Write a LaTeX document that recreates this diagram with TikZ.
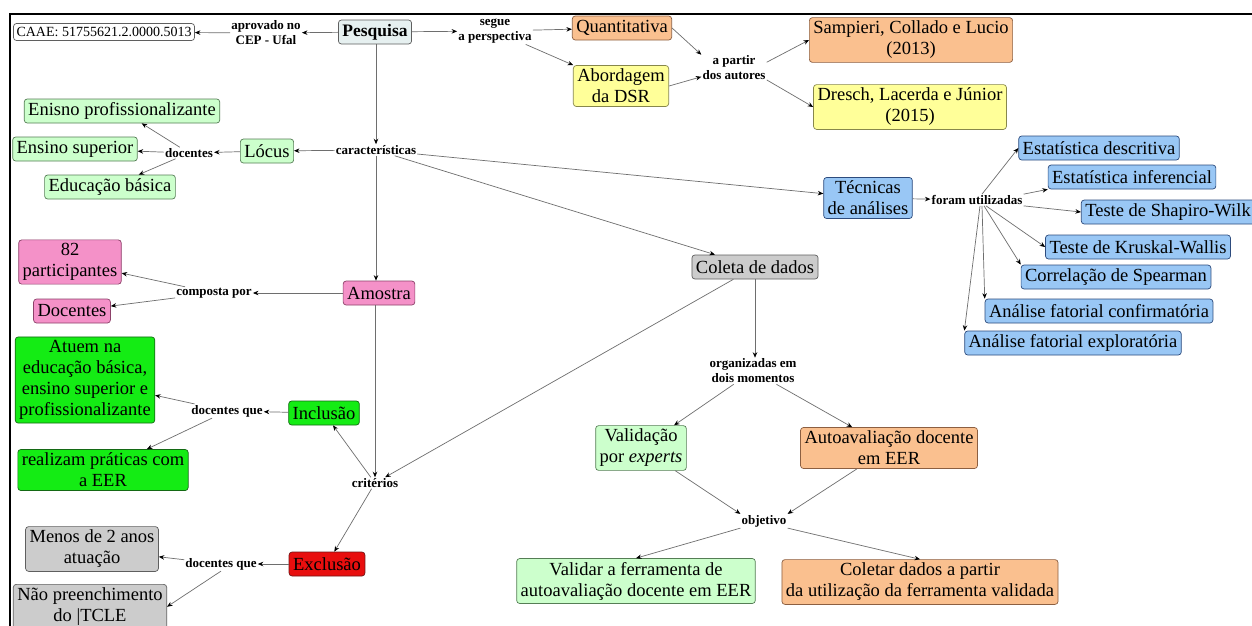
\documentclass[tikz,border=0pt]{standalone}
\usepackage{fontspec}
\setmainfont{Liberation Serif}
\usetikzlibrary{arrows.meta,calc}

\definecolor{orangeF}{RGB}{250,192,143}
\definecolor{orangeD}{RGB}{140,95,65}
\definecolor{yellowF}{RGB}{255,255,153}
\definecolor{yellowD}{RGB}{135,135,75}
\definecolor{lgreenF}{RGB}{204,255,204}
\definecolor{lgreenD}{RGB}{85,125,85}
\definecolor{blueF}{RGB}{153,199,245}
\definecolor{blueD}{RGB}{45,75,125}
\definecolor{grayF}{RGB}{204,204,204}
\definecolor{grayD}{RGB}{95,95,95}
\definecolor{pinkF}{RGB}{244,145,200}
\definecolor{pinkD}{RGB}{140,65,105}
\definecolor{bgreenF}{RGB}{20,236,20}
\definecolor{bgreenD}{RGB}{20,105,20}
\definecolor{redF}{RGB}{232,14,14}
\definecolor{redD}{RGB}{115,20,20}
\definecolor{pesqF}{RGB}{230,240,240}
\definecolor{lineC}{RGB}{110,110,110}

\tikzset{
  box/.style={draw, rounded corners=3pt, line width=0.7pt, inner xsep=4pt,
    inner ysep=3.5pt, minimum height=24pt, align=center,
    font=\fontsize{18.5}{21}\selectfont},
  orangebox/.style={box, fill=orangeF, draw=orangeD},
  yellowbox/.style={box, fill=yellowF, draw=yellowD},
  lgreenbox/.style={box, fill=lgreenF, draw=lgreenD},
  bluebox/.style={box, fill=blueF, draw=blueD},
  graybox/.style={box, fill=grayF, draw=grayD},
  pinkbox/.style={box, fill=pinkF, draw=pinkD},
  bgreenbox/.style={box, fill=bgreenF, draw=bgreenD},
  redbox/.style={box, fill=redF, draw=redD},
  lbl/.style={inner sep=1pt, align=center,
    font=\bfseries\fontsize{13}{15}\selectfont},
  conn/.style={draw=lineC, line width=0.7pt,
    -{Stealth[length=5.5pt,width=4.5pt,black]}},
}

\begin{document}
\begin{tikzpicture}[x=1pt,y=-1pt]
\useasboundingbox (0,0) rectangle (1252,625);
\clip (0,0) rectangle (1252,625);
\fill[white] (0,0) rectangle (1252,625);

% outer frame (top and left edges)
\draw[line width=2.2pt] (10,626) -- (10,14) -- (1253,14);

% ---- research root and approval
\node[box, fill=pesqF, draw=grayD, font=\bfseries\fontsize{17.5}{20}\selectfont] (pesq) at (375,32) {Pesquisa};
\node[box, fill=white, draw=grayD, minimum height=17pt, inner ysep=1.5pt, inner xsep=3pt,
      font=\fontsize{14}{16}\selectfont] (caae) at (104,32) {CAAE: 51755621.2.0000.5013};
\node[lbl] (apr) at (266,33) {aprovado no\\CEP - Ufal};

% ---- approach and authors
\node[lbl] (seg) at (495,31) {segue\\a perspectiva};
\node[orangebox] (quant) at (622,28) {Quantitativa};
\node[yellowbox] (abord) at (621,86) {Abordagem\\da DSR};
\node[lbl] (ap) at (734,68) {a partir\\dos autores};
\node[orangebox] (samp) at (911,40) {Sampieri, Collado e Lucio\\(2013)};
\node[yellowbox] (dresch) at (910,107) {Dresch, Lacerda e Júnior\\(2015)};

% ---- characteristics and locus
\node[lbl] (car) at (376,150) {características};
\node[lgreenbox] (locus) at (267,151) {Lócus};
\node[lbl] (doc) at (189,153) {docentes};
\node[lgreenbox] (enisno) at (122,111) {Enisno profissionalizante};
\node[lgreenbox] (sup) at (75,149) {Ensino superior};
\node[lgreenbox] (basica) at (110,187) {Educação básica};

% ---- analysis techniques
\node[bluebox] (tec) at (868,198) {Técnicas\\de análises};
\node[lbl] (fu) at (977,200) {foram utilizadas};
\node[bluebox] (desc) at (1099,148) {Estatística descritiva};
\node[bluebox] (inf) at (1132,177) {Estatística inferencial};
\node[bluebox] (shap) at (1168,212) {Teste de Shapiro-Wilk};
\node[bluebox] (krus) at (1138,247) {Teste de Kruskal-Wallis};
\node[bluebox] (spear) at (1116,277) {Correlação de Spearman};
\node[bluebox] (conf) at (1099,311) {Análise fatorial confirmatória};
\node[bluebox] (expl) at (1073,343) {Análise fatorial exploratória};

% ---- data collection
\node[graybox] (coleta) at (755,267) {Coleta de dados};
\node[lbl] (org) at (753,371) {organizadas em\\dois momentos};
\node[lgreenbox] (valid) at (641,448) {Validação\\por \textit{experts}};
\node[orangebox] (auto) at (889,448) {Autoavaliação docente\\em EER};
\node[lbl] (obj) at (764,521) {objetivo};
\node[lgreenbox] (validar) at (636,581) {Validar a ferramenta de\\autoavaliação docente em EER};
\node[orangebox] (coletar) at (920,582) {Coletar dados a partir\\da utilização da ferramenta validada};

% ---- sample
\node[pinkbox] (amostra) at (379,293) {Amostra};
\node[lbl] (comp) at (214,293) {composta por};
\node[pinkbox] (p82) at (70,262) {82\\participantes};
\node[pinkbox] (docentes) at (72,311) {Docentes};

% ---- criteria
\node[lbl] (crit) at (375,483) {critérios};
\node[bgreenbox] (incl) at (324,413) {Inclusão};
\node[lbl] (idq) at (227,411) {docentes que};
\node[bgreenbox] (atuem) at (85,380) {Atuem na\\educação básica,\\ensino superior e\\profissionalizante};
\node[bgreenbox] (realizam) at (103,470) {realizam práticas com\\a EER};
\node[redbox] (excl) at (327,564) {Exclusão};
\node[lbl] (edq) at (221,564) {docentes que};
\node[graybox] (menos) at (92,549) {Menos de 2 anos\\atuação};
\node[graybox, anchor=north] (nao) at (90,584) {Não preenchimento\\do |TCLE};

% ---- connectors
\draw[conn] (pesq) -- (apr);
\draw[conn] (apr) -- (caae);
\draw[conn] (pesq) -- (seg);
\draw[conn] (seg) -- (quant);
\draw[conn] (seg) -- (abord);
\draw[conn] (quant.east) -- (ap.north west);
\draw[conn] (abord.east) -- (ap.195);
\draw[conn] (ap.10) -- (samp.west);
\draw[conn] (ap.-20) -- (dresch.west);

\draw[conn] (pesq.south -| car.north) -- (car.north);
\draw[conn] (car) -- (locus);
\draw[conn] (locus) -- (doc);
\draw[conn] (doc) -- (enisno);
\draw[conn] (doc) -- (sup);
\draw[conn] (doc) -- (basica);

\draw[conn] (car) -- (tec);
\draw[conn] (tec) -- (fu);
\draw[conn] ($(fu.north)+(5,0)$) -- (desc.west);
\draw[conn] (fu.north east) -- (inf.south west);
\draw[conn] (fu.south east) -- (shap.west);
\draw[conn] ($(fu.south)+(9,0)$) -- (krus.west);
\draw[conn] ($(fu.south)+(7,0)$) -- (spear.north west);
\draw[conn] ($(fu.south)+(5,0)$) -- (conf.north west);
\draw[conn] ($(fu.south)+(3,0)$) -- (expl.north west);

\draw[conn] (car) -- (coleta);
\draw[conn] (car.south) -- (car.south |- amostra.north);
\draw[conn] (amostra) -- (comp);
\draw[conn] (comp) -- (p82);
\draw[conn] (comp) -- (docentes);

\draw[conn] (crit.north |- amostra.south) -- (crit.north);
\draw[conn] (coleta) -- (crit);
\draw[conn] (crit) -- (incl);
\draw[conn] (crit) -- (excl);
\draw[conn] (incl) -- (idq);
\draw[conn] (idq) -- (atuem);
\draw[conn] (idq) -- (realizam);
\draw[conn] (excl) -- (edq);
\draw[conn] (edq) -- (menos);
\draw[conn] (edq.south) -- (nao.east);

\draw[conn] (coleta.south) -- (coleta.south |- org.north);
\draw[conn] (org) -- (valid);
\draw[conn] (org) -- (auto);
\draw[conn] (valid) -- (obj.north west);
\draw[conn] (auto) -- (obj.north east);
\draw[conn] (obj.south west) -- (validar.north);
\draw[conn] (obj.south east) -- (coletar.north);
\end{tikzpicture}
\end{document}
